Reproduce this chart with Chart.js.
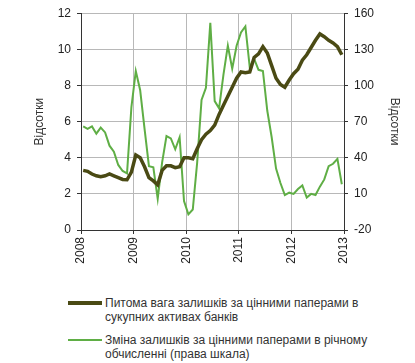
<!DOCTYPE html>
<html><head><meta charset="utf-8">
<script src="https://cdn.jsdelivr.net/npm/chart.js@4/dist/chart.umd.min.js"></script>
<style>
html,body{margin:0;padding:0;background:#fff;}
#wrap{position:relative;width:415px;height:363px;overflow:hidden;}
#cw{position:absolute;left:0;top:0;width:415px;height:285px;}
.lg{position:absolute;left:105px;font-family:"Liberation Sans",Arial,sans-serif;font-size:12px;color:#333;line-height:14px;white-space:nowrap;}
.sw{position:absolute;left:68px;width:34px;}
</style></head>
<body><div id="wrap">
<div id="cw"><canvas id="c" width="415" height="285"></canvas></div>
<div class="sw" style="top:301px;height:4px;background:#4a4a14;"></div>
<div class="lg" style="top:296px;">Питома вага залишків за цінними паперами в<br>сукупних активах банків</div>
<div class="sw" style="top:339px;height:2px;background:#5fae45;"></div>
<div class="lg" style="top:333px;">Зміна залишків за цінними паперами в річному<br>обчисленні (права шкала)</div>
</div>
<script>
const yearLabels = ['2008','2009','2010','2011','2012','2013'];
const leftTitle = 'Відсотки';
const rightTitle = 'Відсотки';
const seriesNames = ['Питома вага залишків за цінними паперами в сукупних активах банків',
                     'Зміна залишків за цінними паперами в річному обчисленні (права шкала)'];
// monthly, Jan 2008 .. Dec 2012, percent (left axis)
const shareValues = [3.3,3.25,3.1,3.0,2.95,3.0,3.1,3.0,2.9,2.8,2.78,3.2,
  4.15,4.0,3.5,2.9,2.72,2.5,3.3,3.55,3.55,3.45,3.5,4.0,
  4.0,3.95,4.5,5.0,5.3,5.5,5.8,6.4,6.9,7.4,7.9,8.4,
  8.75,8.7,8.75,9.55,9.75,10.15,9.8,9.1,8.4,8.05,7.9,8.3,
  8.65,8.9,9.4,9.7,10.1,10.5,10.85,10.7,10.5,10.35,10.15,9.7];
// monthly, Jan 2008 .. Dec 2012, percent y/y (right axis)
const changeValues = [66,64,66,60,65,61,50,45,34,29,27,82,
  112,96,64,33,32,6,36,58,56,47,57,4,
  -7,-3,36,88,98,152,87,81,109,133,114,133,
  144,149,115,122,113,112,79,57,31,19,9,11,
  10,14,17,7,10,9,16,22,33,35,39,18];

const toPts = arr => arr.map((v,i)=>({x:i+0.5,y:v}));
const gridCol = '#b8b8b8', axisCol = '#333';
const tickFont = {family:'"Liberation Sans", Arial, sans-serif', size:12};

new Chart(document.getElementById('c'), {
  type:'line',
  data:{datasets:[
    {label:seriesNames[0], data:toPts(shareValues), yAxisID:'y', borderColor:'#4a4a14', borderWidth:3.5, pointRadius:0, tension:0, order:1},
    {label:seriesNames[1], data:toPts(changeValues), yAxisID:'y1', borderColor:'#5fae45', borderWidth:2, pointRadius:0, tension:0, order:2}
  ]},
  options:{
    responsive:false, animation:false, devicePixelRatio:1,
    layout:{padding:{top:9,left:0,right:0,bottom:0}},
    plugins:{legend:{display:false}, tooltip:{enabled:false}},
    scales:{
      x:{type:'linear', min:0, max:60,
        ticks:{stepSize:12, autoSkip:false, minRotation:90, maxRotation:90, padding:3, color:'#222', font:tickFont,
          callback:v=>yearLabels[Math.round(v/12)]},
        grid:{color:gridCol, tickColor:axisCol, tickLength:4},
        border:{display:true, color:axisCol},
        afterFit:s=>{s.height=55;}
      },
      y:{position:'left', min:0, max:12,
        ticks:{stepSize:2, padding:6, color:'#222', font:tickFont},
        grid:{color:gridCol, tickColor:axisCol, tickLength:4},
        border:{display:true, color:axisCol},
        title:{display:true, text:leftTitle, color:'#333', font:tickFont, padding:{top:32,bottom:0}},
        afterFit:s=>{s.width=81;}
      },
      y1:{position:'right', min:-20, max:160,
        ticks:{stepSize:30, padding:6, color:'#222', font:tickFont},
        grid:{drawOnChartArea:false, tickColor:axisCol, tickLength:4},
        border:{display:true, color:axisCol},
        title:{display:true, text:rightTitle, color:'#333', font:tickFont, padding:{top:13,bottom:0}},
        afterFit:s=>{s.width=71;}
      }
    }
  }
});
</script>
</body></html>
